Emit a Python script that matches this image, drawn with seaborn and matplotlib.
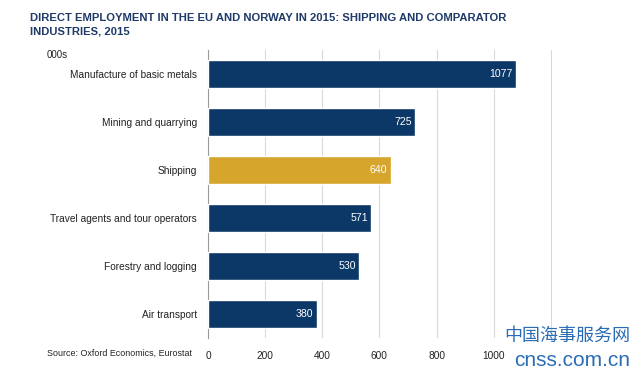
import matplotlib
matplotlib.use("Agg")
import matplotlib.pyplot as plt
import seaborn as sns
import pandas as pd

# data (thousands of jobs)
industries = ["Manufacture of basic metals", "Mining and quarrying", "Shipping",
              "Travel agents and tour operators", "Forestry and logging", "Air transport"]
employment = [1077, 725, 640, 571, 530, 380]
highlight = ["other", "other", "shipping", "other", "other", "other"]
x_ticks = [0, 200, 400, 600, 800, 1000, 1200]
x_tick_labels = ["0", "200", "400", "600", "800", "1000", ""]

navy = "#0c3868"
gold = "#d6a52b"
title_col = "#1f3a68"

df = pd.DataFrame({"industry": industries, "jobs": employment, "group": highlight})

sns.set_style("white")
plt.rcParams["font.family"] = ["Liberation Sans", "DejaVu Sans"]

fig = plt.figure(figsize=(6.4, 3.76), dpi=100)
ax = fig.add_axes([0.325, 0.101, 0.5375, 0.766])

sns.barplot(data=df, x="jobs", y="industry", hue="group",
            palette={"other": navy, "shipping": gold}, saturation=1,
            width=0.57, dodge=False, legend=False, ax=ax, zorder=3)

ax.set_xlim(0, 1204)
ax.set_xticks(x_ticks)
ax.set_xticklabels(x_tick_labels)
ax.grid(axis="x", color="#d9d9d9", linewidth=0.8, zorder=0)
ax.set_xlabel("")
ax.set_ylabel("")
for s in ["top", "right", "bottom"]:
    ax.spines[s].set_visible(False)
ax.spines["left"].set_color("#9a9a9a")
ax.spines["left"].set_linewidth(0.8)
ax.tick_params(axis="both", length=0, labelsize=7.3, colors="#222222")
ax.tick_params(axis="x", pad=9)
ax.tick_params(axis="y", pad=8)

for i, v in enumerate(employment):
    ax.text(v - 12, i, str(v), color="white", ha="right", va="center", fontsize=7.6, zorder=4)

fig.text(0.047, 0.965, "DIRECT EMPLOYMENT IN THE EU AND NORWAY IN 2015: SHIPPING AND COMPARATOR\nINDUSTRIES, 2015",
         color=title_col, fontsize=8.1, fontweight="bold", ha="left", va="top", linespacing=1.4)
fig.text(0.073, 0.853, "000s", fontsize=7.0, color="#222222", ha="left", va="center")
fig.text(0.073, 0.061, "Source: Oxford Economics, Eurostat", fontsize=6.4, color="#222222",
         ha="left", va="center")

# watermark
fig.text(0.985, 0.108, "中国海事服务网", fontsize=13, color="#2a6db5", ha="right", va="center",
         family=["Noto Sans CJK SC", "DejaVu Sans"])
fig.text(0.985, 0.040, "cnss.com.cn", fontsize=15, color="#2a6db5", ha="right", va="center")

fig.savefig("out.png", dpi=100)
